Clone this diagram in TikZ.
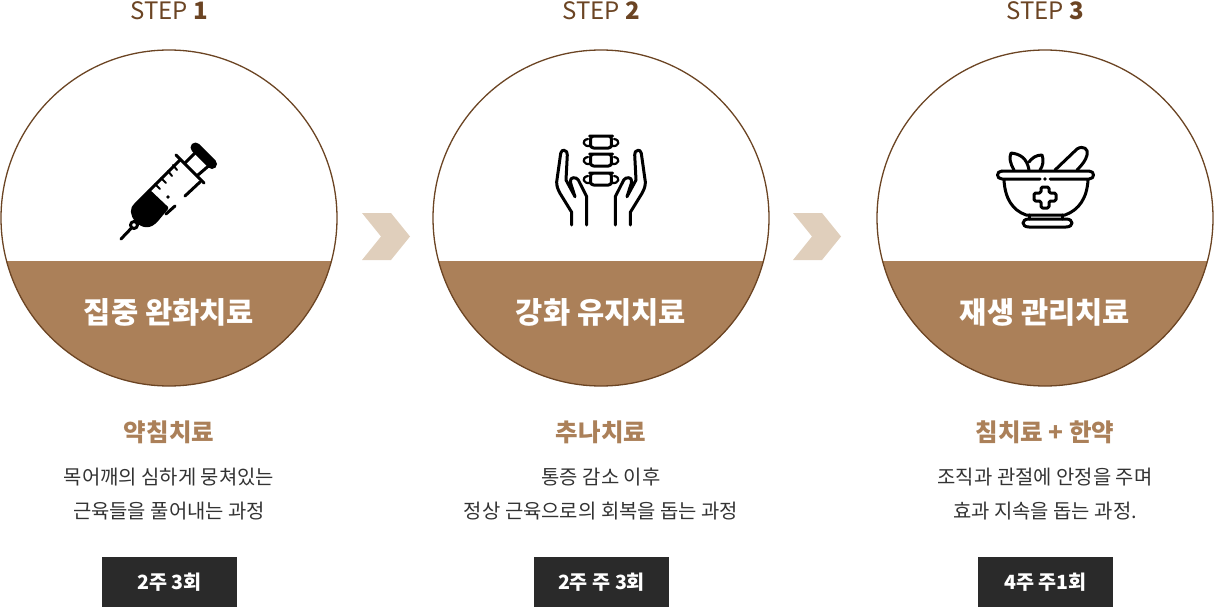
\documentclass[tikz,border=0pt]{standalone}
\usepackage{fontspec}
\setmainfont{Noto Sans CJK KR}
\usetikzlibrary{positioning}
\definecolor{stepbrown}{HTML}{6B4423}
\definecolor{bandbrown}{HTML}{AB8059}
\definecolor{chevtan}{HTML}{E0CFBC}
\definecolor{boxdark}{HTML}{2A2A2A}
\definecolor{bodygray}{HTML}{333333}
\tikzset{
  steplabel/.style={text=stepbrown,font=\fontsize{24}{28}\selectfont,inner sep=0pt},
  ring/.style={draw=stepbrown,line width=1.3pt},
  band/.style={fill=bandbrown},
  chevron/.style={fill=chevtan},
  bandtitle/.style={text=white,font=\fontsize{29.6}{34}\selectfont\bfseries,inner sep=0pt},
  subtitle/.style={text=bandbrown,font=\fontsize{24.5}{28}\selectfont\bfseries,inner sep=0pt},
  bodytext/.style={text=bodygray,font=\fontsize{19.9}{24}\selectfont,inner sep=0pt},
  weekbox/.style={fill=boxdark,text=white,font=\fontsize{19.6}{24}\selectfont\bfseries,minimum width=135pt,minimum height=50pt,inner sep=0pt},
  icon/.style={draw=black,line width=3pt,line cap=round,line join=round},
}
\newcommand{\handpath}{(571.7,225) -- (571.7,212.3) -- (560,193.3) .. controls (557.5,189) and (556.5,185) .. (556.7,181.7) -- (560.7,153.3) .. controls (561.2,150.5) and (563,150) .. (564,150.3) .. controls (566.5,150.5) and (567.5,152.5) .. (567.3,155) -- (566,180) -- (575,196.7) (575,196.7) -- (570.7,183.3) .. controls (570,179) and (571.5,177.7) .. (573.3,177.7) .. controls (575.5,177.5) and (577.3,178.5) .. (578.3,180) -- (586.7,196.7) -- (586.7,225)}
\newcommand{\bonepath}[2]{[rounded corners=3.5pt] (#1-8,#2) -- (#1+8,#2) -- (#1+11,#2) -- (#1+10,#2+6) -- (#1+11,#2+12) -- (#1-11,#2+12) -- (#1-10,#2+6) -- (#1-11,#2) -- cycle}

\begin{document}
\begin{tikzpicture}[x=1pt,y=-1pt]
\useasboundingbox (0,0) rectangle (1214,607);
% circles
\begin{scope}
\clip (169,218) circle (168);
\fill[band] (0,261) rectangle (340,390);
\end{scope}
\begin{scope}
\clip (601,218) circle (168);
\fill[band] (430,261) rectangle (772,390);
\end{scope}
\begin{scope}
\clip (1045,218) circle (168);
\fill[band] (875,261) rectangle (1216,390);
\end{scope}
\draw[ring] (169,218) circle (168);
\draw[ring] (601,218) circle (168);
\draw[ring] (1045,218) circle (168);
% chevrons
\fill[chevron] (362,213) -- (391,213) -- (410,236.5) -- (391,260) -- (362,260) -- (381,236.5) -- cycle;
\fill[chevron] (793,213) -- (822,213) -- (841,236.5) -- (822,260) -- (793,260) -- (812,236.5) -- cycle;
% step 1
\node[steplabel] (stepa) at (169,11) {STEP \textbf{1}};
\node[bandtitle] (titlea) at (169,312.5) {집중 완화치료};
\node[subtitle] (suba) at (169,432) {약침치료};
\node[bodytext] (texta) at (169,477) {목어깨의 심하게 뭉쳐있는};
\node[bodytext] (textb) at (169,511) {근육들을 풀어내는 과정};
\node[weekbox] (boxa) at (169.5,582) {2주 3회};
% step 2
\node[steplabel] (stepb) at (601,11) {STEP \textbf{2}};
\node[bandtitle] (titleb) at (601,312.5) {강화 유지치료};
\node[subtitle] (subb) at (601,432) {추나치료};
\node[bodytext] (textc) at (601,477) {통증 감소 이후};
\node[bodytext] (textd) at (601,511) {정상 근육으로의 회복을 돕는 과정};
\node[weekbox] (boxb) at (601.5,582) {2주 주 3회};
% step 3
\node[steplabel] (stepc) at (1045,11) {STEP \textbf{3}};
\node[bandtitle] (titlec) at (1045,312.5) {재생 관리치료};
\node[subtitle] (subc) at (1045,432) {침치료 + 한약};
\node[bodytext] (texte) at (1045,477) {조직과 관절에 안정을 주며};
\node[bodytext] (textf) at (1045,511) {효과 지속을 돕는 과정.};
\node[weekbox] (boxc) at (1045.5,582) {4주 주1회};
% syringe
\draw[icon,line width=10pt] (195.5,147.5) -- (212,164);
\draw[icon] (176,155) -- (204,183);
\draw[icon] (185,163) -- (198,150);
\draw[icon] (198,175) -- (212,163);
\draw[icon] (180,160) -- (149,191);
\draw[icon] (200,182) -- (185,196);
\draw[icon] (175,206) -- (166,214);
\draw[icon,line width=2pt] (177,170) -- (173,165);
\draw[icon,line width=2pt] (172,176) -- (168,171);
\draw[icon,line width=2pt] (166,183) -- (161,178);
\draw[icon,line width=2pt] (160,189) -- (155,184);
\fill (168,197) circle (1.8);
\draw[icon,fill=black] (149,191) -- (167,208) -- (157,220) .. controls (150,228) and (143,227) .. (137,221) .. controls (131,215) and (131,208) .. (136,204) -- cycle;
\draw[icon,fill=white] (134,225) circle (3.5);
\draw[icon] (131.5,228) -- (121,239);
% spine and hands
\draw[icon] \handpath;
\begin{scope}[xshift=1202pt,xscale=-1]
\draw[icon] \handpath;
\end{scope}
\draw[icon] \bonepath{601}{136};
\draw[icon] \bonepath{601}{154};
\draw[icon] \bonepath{601}{173};
\draw[icon,line width=2.2pt] (590,146) .. controls (583,147) and (581,140) .. (588,139);
\draw[icon,line width=2.2pt] (612,146) .. controls (619,147) and (621,140) .. (614,139);
\draw[icon,line width=2.2pt] (590,164) .. controls (583,165) and (581,158) .. (588,157);
\draw[icon,line width=2.2pt] (612,164) .. controls (619,165) and (621,158) .. (614,157);
\draw[icon,line width=2.2pt] (590,183) .. controls (583,184) and (581,177) .. (588,176);
\draw[icon,line width=2.2pt] (612,183) .. controls (619,184) and (621,177) .. (614,176);
% mortar
\draw[icon] (1002,171) -- (1089,171) .. controls (1095,171) and (1095,179) .. (1089,179) -- (1050,179);
\draw[icon] (1040,179) -- (1002,179) .. controls (996,179) and (996,171) .. (1002,171);
\fill (1045,179) circle (1.8);
\draw[icon] (1004,180) .. controls (1005,198) and (1012,210) .. (1026,215) -- (1065,215) .. controls (1079,210) and (1087,198) .. (1088,180);
\draw[icon] (1029,219) -- (1066,219) .. controls (1074,219) and (1074,227) .. (1066,227) -- (1029,227) .. controls (1021,227) and (1021,219) .. (1029,219);
\draw[icon] (1029,215) -- (1029,219);
\draw[icon] (1062,215) -- (1062,219);
\draw[icon,rounded corners=1.5pt] (1041,187) -- (1049,187) -- (1049,193) -- (1056,193) -- (1056,201) -- (1049,201) -- (1049,208) -- (1041,208) -- (1041,201) -- (1034,201) -- (1034,193) -- (1041,193) -- cycle;
\draw[icon] (1014,170) .. controls (1010,163) and (1009,158) .. (1011,153) .. controls (1020,154) and (1027,158) .. (1029,170);
\draw[icon] (1029,162) .. controls (1032,158) and (1036,155) .. (1042,155) .. controls (1044,160) and (1043,166) .. (1040,170);
\draw[icon] (1055,170) -- (1077,149) .. controls (1083,145) and (1089,149) .. (1087,155) .. controls (1086,160) and (1082,165) .. (1077,170);
\end{tikzpicture}
\end{document}
